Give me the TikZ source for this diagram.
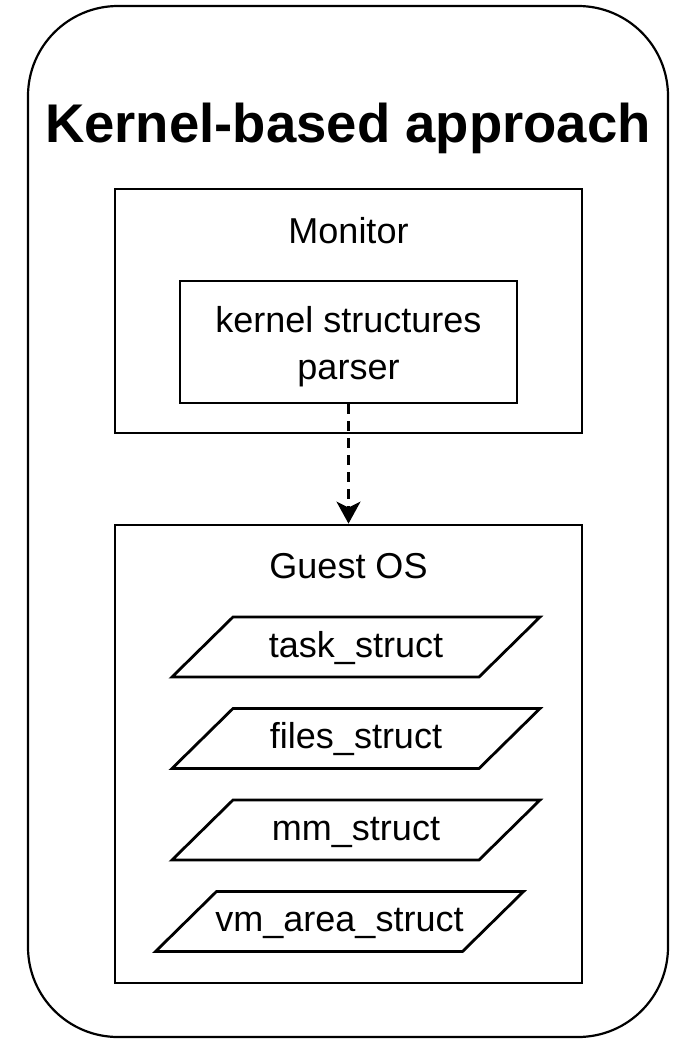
\documentclass[tikz,border=0pt]{standalone}
\usepackage{fontspec}
\setmainfont{Liberation Sans}
\usepackage{tikz}
\usetikzlibrary{arrows.meta}

\tikzset{
  frame/.style={draw, line width=1.1pt, rounded corners=45pt, minimum width=320pt, minimum height=515.5pt},
  boxnode/.style={draw, line width=1.4pt, inner sep=0pt},
  structbox/.style={draw, line width=1.4pt, line join=miter},
  txt/.style={font=\fontsize{18}{23.5}\selectfont, inner sep=0pt, text height=13pt, text depth=3pt},
  link/.style={line width=1.4pt, dash pattern=on 5pt off 3.5pt, -{Stealth[length=11pt, width=12pt, inset=3pt]}}
}

\begin{document}
\begin{tikzpicture}[x=0.5pt, y=-0.5pt]

\useasboundingbox (0,0) rectangle (685,1039);

\node[frame] (outer) at (348,521.5) {};
\node[anchor=base, inner sep=0pt, font=\bfseries\fontsize{27.25}{32}\selectfont] (title) at (348,142) {Kernel-based approach};

% monitor side
\node[boxnode, minimum width=233.5pt, minimum height=122pt] (monitor) at (348.5,311) {};
\node[txt] (monlabel) at (348.5,233) {Monitor};
\node[boxnode, minimum width=168.5pt, minimum height=61pt, align=center, font=\fontsize{18}{23.5}\selectfont] (parser) at (348.5,342) {\rule{0pt}{18pt}kernel structures\\parser};

% guest side
\node[boxnode, minimum width=233.5pt, minimum height=229pt] (guest) at (348.5,754) {};
\node[txt] (guestlabel) at (348.5,568) {Guest OS};

\foreach \cx/\cy/\nm/\txt in {356/647/task/task\_struct, 356/738.5/files/files\_struct, 356/830/mm/mm\_struct, 339.5/921.5/vma/vm\_area\_struct}
{
\draw[structbox] (\cx-184,\cy+30) -- (\cx-123,\cy-30) -- (\cx+184,\cy-30) -- (\cx+123,\cy+30) -- cycle;
\node[txt] (\nm) at (\cx,\cy) {\txt};
}

\draw[link] (parser.south) -- (guest.north);

\end{tikzpicture}
\end{document}
